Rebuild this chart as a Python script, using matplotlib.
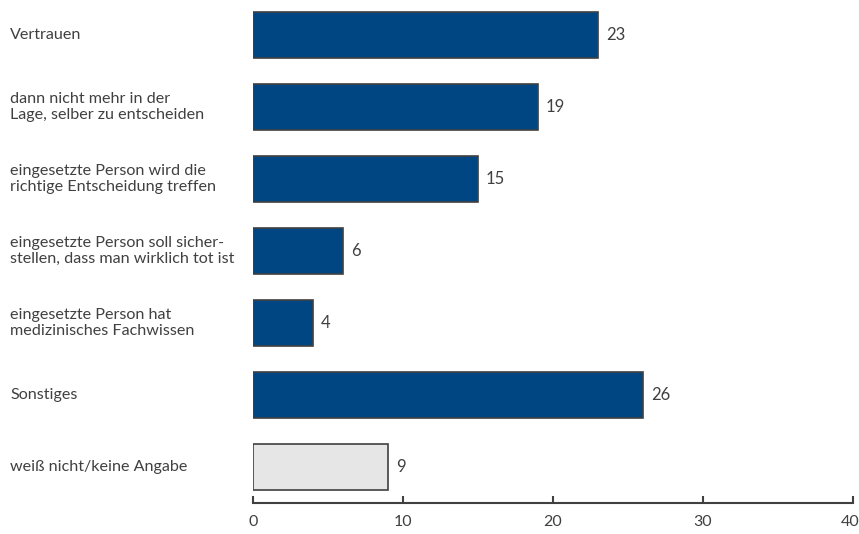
import matplotlib
matplotlib.use("Agg")
import matplotlib.pyplot as plt
import matplotlib.transforms as mtransforms

categories = [
    "Vertrauen",
    "dann nicht mehr in der\nLage, selber zu entscheiden",
    "eingesetzte Person wird die\nrichtige Entscheidung treffen",
    "eingesetzte Person soll sicher-\nstellen, dass man wirklich tot ist",
    "eingesetzte Person hat\nmedizinisches Fachwissen",
    "Sonstiges",
    "weiß nicht/keine Angabe",
]
values = [23, 19, 15, 6, 4, 26, 9]
colors = ["#004683"] * 6 + ["#E6E6E6"]
xticks = [0, 10, 20, 30, 40]

plt.rcParams['font.family'] = ['Lato', 'DejaVu Sans']
txt = "#404040"

fig = plt.figure(figsize=(8.59, 5.34), dpi=100)
ax = fig.add_axes([252.7/859, (534-503)/534, 600/859, 504/534])

ypos = list(range(len(categories)))
ax.barh(ypos, values, height=0.63, color=colors, edgecolor="#404040", linewidth=1.2)
ax.set_ylim(6.5, -0.5)
ax.set_xlim(0, 40)

for y, v in zip(ypos, values):
    ax.annotate(str(v), (v, y), xytext=(6, 0), textcoords="offset points",
                va="center", ha="left", fontsize=12, color=txt)

for y, c in zip(ypos, categories):
    ax.annotate(c, (0, y), xycoords=("figure fraction", "data"), xytext=(10, 0),
                textcoords="offset pixels", va="center", ha="left",
                fontsize=11.6, color=txt, linespacing=1.1)

for s in ["top", "right", "left"]:
    ax.spines[s].set_visible(False)
ax.spines["bottom"].set_color("#404040")
ax.spines["bottom"].set_linewidth(1.5)
ax.set_yticks([])
ax.set_xticks(xticks)
ax.tick_params(axis="x", direction="in", length=5, width=1.5, color="#404040",
               labelcolor=txt, labelsize=11.5, pad=9)

fig.canvas.draw()
last = ax.get_xticklabels()[-1]
last.set_transform(last.get_transform() + mtransforms.ScaledTranslation(-3/100, 0, fig.dpi_scale_trans))

fig.savefig("out.png", dpi=100)
